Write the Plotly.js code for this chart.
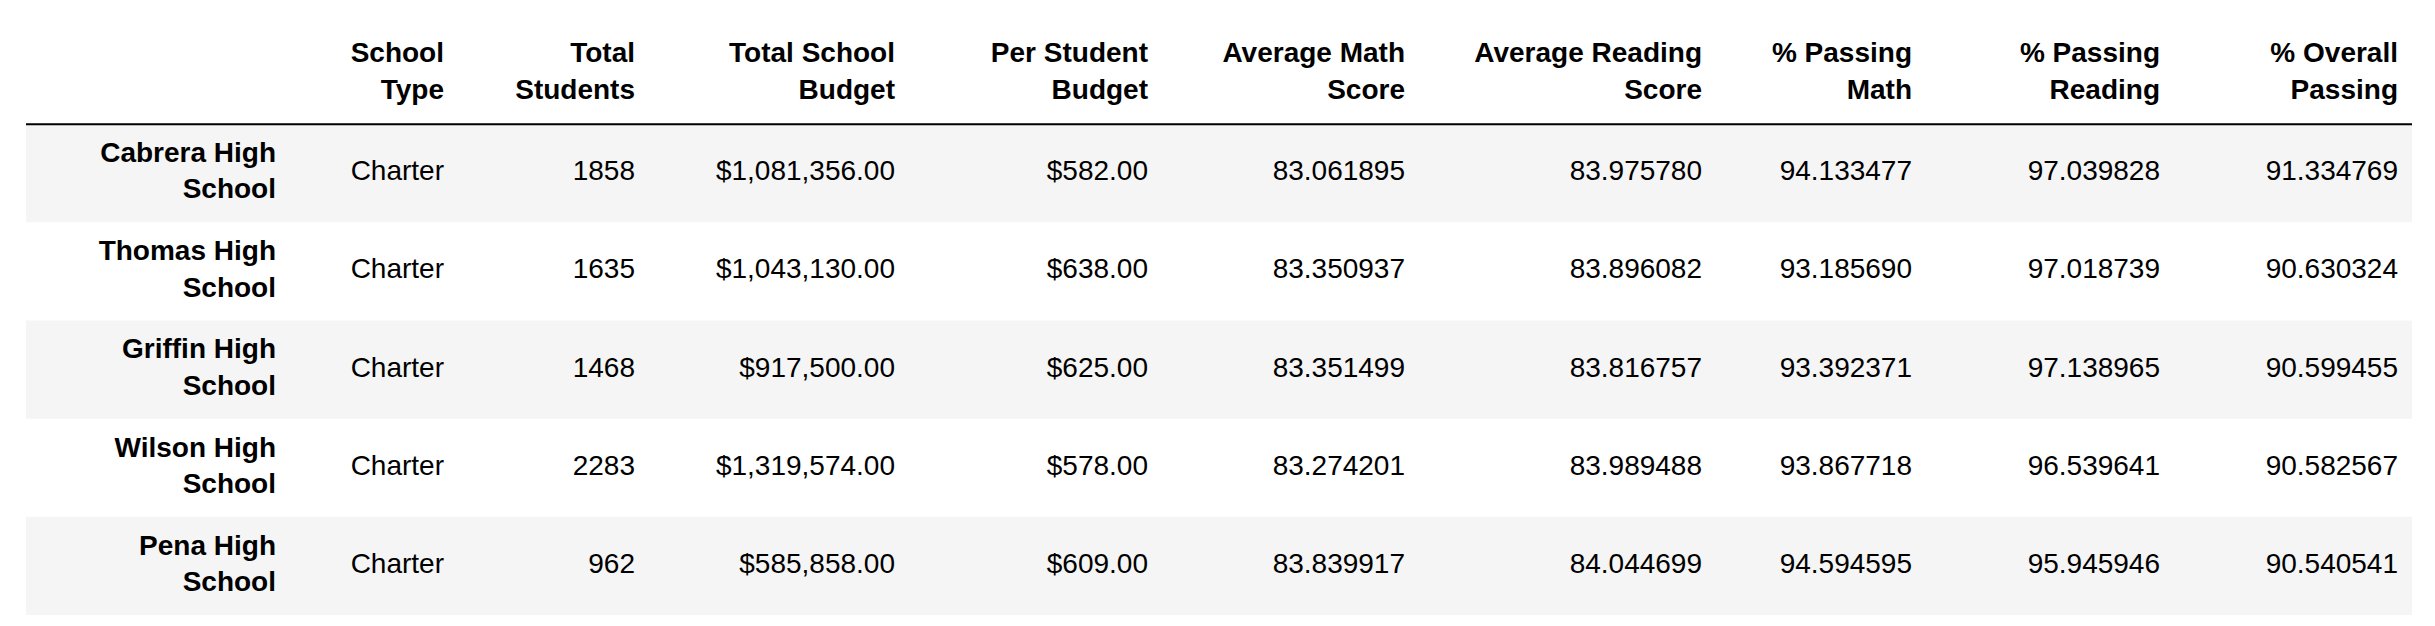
<!DOCTYPE html>
<html><head><meta charset="utf-8">
<script src="https://cdn.plot.ly/plotly-3.0.1.min.js"></script>
<style>body{margin:0;background:#fff}#c{width:2435px;height:626px}</style>
</head><body><div id="c"></div>
<script>
const schools = ["Cabrera High<br>School","Thomas High<br>School","Griffin High<br>School","Wilson High<br>School","Pena High<br>School"];
const schoolType = ["Charter","Charter","Charter","Charter","Charter"];
const totalStudents = [1858,1635,1468,2283,962];
const totalBudget = [1081356,1043130,917500,1319574,585858];
const perStudentBudget = [582,638,625,578,609];
const avgMath = [83.061895,83.350937,83.351499,83.274201,83.839917];
const avgReading = [83.975780,83.896082,83.816757,83.989488,84.044699];
const pctMath = [94.133477,93.185690,93.392371,93.867718,94.594595];
const pctReading = [97.039828,97.018739,97.138965,96.539641,95.945946];
const pctOverall = [91.334769,90.630324,90.599455,90.582567,90.540541];
const headers = ["","School<br>Type","Total<br>Students","Total School<br>Budget","Per Student<br>Budget","Average Math<br>Score","Average Reading<br>Score","% Passing<br>Math","% Passing<br>Reading","% Overall<br>Passing"];

const money = v => "$" + v.toLocaleString("en-US",{minimumFractionDigits:2,maximumFractionDigits:2});
const f6 = v => v.toFixed(6);
const columns = [
  schools, schoolType, totalStudents.map(String), totalBudget.map(money), perStudentBudget.map(money),
  avgMath.map(f6), avgReading.map(f6), pctMath.map(f6), pctReading.map(f6), pctOverall.map(f6)
];
const rightEdges = [276,444,635,895,1148,1405,1702,1912,2160,2398];
const left = 26, right = 2412;
const rows = schools.map((_, i) => i);
const FONT = "Liberation Sans, Arial, sans-serif";

const traces = [];
const striped = rows.filter(i => i % 2 === 0);
traces.push({type:"bar", orientation:"h", y:striped, x:striped.map(()=>right-left), base:left,
  width:1, marker:{color:"#f5f5f5", line:{width:0}}, hoverinfo:"skip", showlegend:false});
columns.forEach((col, c) => {
  traces.push({type:"scatter", mode:"text", x:rows.map(()=>rightEdges[c]), y:rows, text:col,
    textposition:"middle left", cliponaxis:false, hoverinfo:"skip", showlegend:false,
    textfont:{family:FONT, size:28, color:"#000", weight: c===0 ? "bold" : "normal"}});
});
traces.push({type:"scatter", mode:"text", x:rightEdges.slice(1), y:rightEdges.slice(1).map(()=>-1.015),
  text:headers.slice(1), textposition:"middle left", cliponaxis:false, hoverinfo:"skip", showlegend:false,
  textfont:{family:FONT, size:28, color:"#000", weight:"bold"}});

Plotly.newPlot("c", traces, {
  width:2435, height:626, margin:{l:0,r:0,t:0,b:0}, paper_bgcolor:"#fff", plot_bgcolor:"#fff",
  barmode:"overlay",
  xaxis:{range:[0,2435], visible:false, fixedrange:true},
  yaxis:{range:[4.612,-1.765], visible:false, fixedrange:true},
  shapes:[{type:"line", xref:"x", yref:"y", x0:left, x1:right, y0:-0.5, y1:-0.5, line:{color:"#000", width:2}}]
}, {staticPlot:true});
</script></body></html>
